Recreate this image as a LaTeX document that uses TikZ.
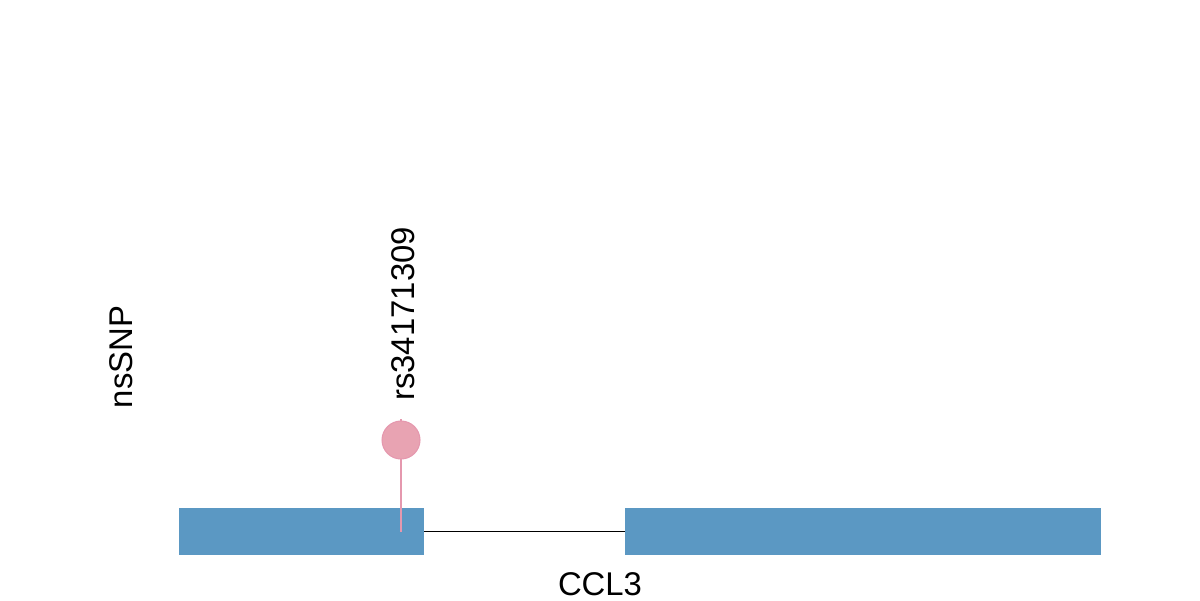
\documentclass[tikz,border=0pt]{standalone}
\usepackage{fontspec}
\setmainfont{Liberation Sans}
\usepackage{xcolor}
\definecolor{exonblue}{HTML}{5B98C3}
\definecolor{snppink}{HTML}{E8A3B2}
\definecolor{snpedge}{HTML}{E598AE}

\begin{document}
\begin{tikzpicture}[x=0.02cm, y=-0.02cm]
    % Define node styles
    \tikzstyle{exon} = [rectangle, fill=exonblue, draw=none, inner sep=0pt, minimum height=0.94cm]
    \tikzstyle{snp} = [circle, fill=snppink, draw=snpedge, line width=0.6pt, inner sep=0pt, minimum size=0.76cm]
    \tikzstyle{stem} = [snpedge, line width=1.1pt]
    \tikzstyle{label} = [font=\fontsize{18.7}{20}\selectfont, inner sep=0pt]

    \useasboundingbox (0,0) rectangle (1200,600);

    % Gene structure: two exons joined by an intron
    \node[exon, minimum width=4.9cm] (e1) at (301.5,531.5) {};
    \node[exon, minimum width=9.52cm] (e2) at (863,531.5) {};
    \draw[line width=1pt] (e1.east) -- (e2.west);

    % Lollipop for the nsSNP
    \coordinate (top) at (401,419);
    \coordinate (base) at (401,532);
    \draw[stem] (top) -- (base);
    \node[snp] (s1) at (401,440) {};

    % Labels
    \node[label, rotate=90, anchor=west] (l1) at (403,401) {rs34171309};
    \node[label, rotate=90] (track) at (121,357) {nsSNP};
    \node[label] (gene) at (600,584) {CCL3};
\end{tikzpicture}
\end{document}
